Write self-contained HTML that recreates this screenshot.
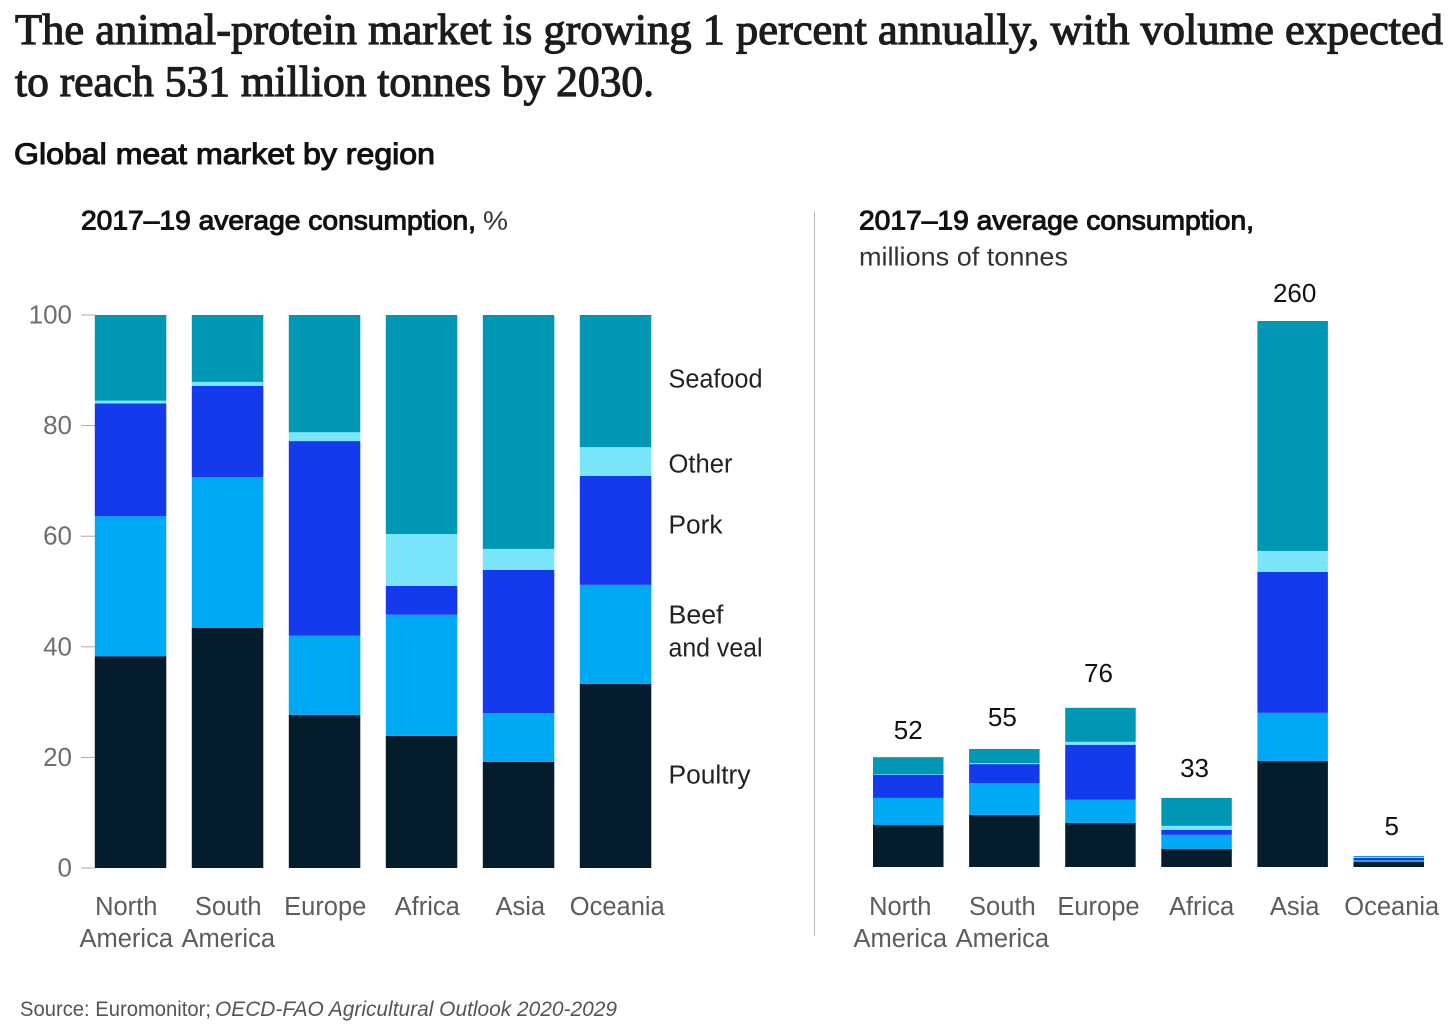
<!DOCTYPE html>
<html lang="en">
<head>
<meta charset="utf-8">
<title>Global meat market by region</title>
<style>
html,body{margin:0;padding:0;background:#fff;}
svg{display:block;}
text{font-family:"Liberation Sans",sans-serif;}
.serif{font-family:"Liberation Serif",serif;font-weight:normal;font-size:43.5px;fill:#1c1c1c;stroke:#1c1c1c;stroke-width:1.15px;}
.cat{font-size:25.5px;fill:#5c5c5c;}
.tick{font-size:26px;fill:#6e6e6e;}
.leg{font-size:25.5px;fill:#222;}
.val{font-size:26px;fill:#111;}
.head{font-size:27px;font-weight:normal;fill:#111;stroke:#111;stroke-width:1px;}
</style>
</head>
<body>
<svg id="chart" xmlns="http://www.w3.org/2000/svg" width="1456" height="1035" viewBox="0 0 1456 1035">
  <text class="serif" x="15" y="44" textLength="1428" lengthAdjust="spacingAndGlyphs">The animal-protein market is growing 1 percent annually, with volume expected</text>
  <text class="serif" x="15" y="96" textLength="639" lengthAdjust="spacingAndGlyphs">to reach 531 million tonnes by 2030.</text>
  <text x="14" y="164" font-size="30" fill="#111" stroke="#111" stroke-width="1.05" textLength="421" lengthAdjust="spacingAndGlyphs">Global meat market by region</text>
  <text class="head" x="81" y="229.5" textLength="395" lengthAdjust="spacingAndGlyphs">2017–19 average consumption,</text>
  <text x="483" y="229.5" font-size="26" fill="#333" textLength="25" lengthAdjust="spacingAndGlyphs">%</text>
  <text class="head" x="859" y="229.5" textLength="395" lengthAdjust="spacingAndGlyphs">2017–19 average consumption,</text>
  <text x="859" y="265.5" font-size="26" fill="#333" textLength="209" lengthAdjust="spacingAndGlyphs">millions of tonnes</text>
  <line x1="814.5" x2="814.5" y1="211" y2="936" stroke="#bdbdbd" stroke-width="1"/>
  <text class="leg" x="668.5" y="387.5" textLength="94" lengthAdjust="spacingAndGlyphs">Seafood</text>
  <text class="leg" x="668.5" y="472.5" textLength="64" lengthAdjust="spacingAndGlyphs">Other</text>
  <text class="leg" x="668.5" y="533.5" textLength="54" lengthAdjust="spacingAndGlyphs">Pork</text>
  <text class="leg" x="668.5" y="623.5" textLength="55" lengthAdjust="spacingAndGlyphs">Beef</text>
  <text class="leg" x="668.5" y="656.5" textLength="94" lengthAdjust="spacingAndGlyphs">and veal</text>
  <text class="leg" x="668.5" y="783.5" textLength="82" lengthAdjust="spacingAndGlyphs">Poultry</text>
  <text x="20" y="1016" font-size="21" fill="#555"><tspan textLength="191" lengthAdjust="spacingAndGlyphs">Source: Euromonitor;</tspan> <tspan x="215" font-style="italic" textLength="402" lengthAdjust="spacingAndGlyphs">OECD-FAO Agricultural Outlook 2020-2029</tspan></text>
</svg>
<script>
const regions = ["North America", "South America", "Europe", "Africa", "Asia", "Oceania"];
const seriesNames = ["Poultry", "Beef and veal", "Pork", "Other", "Seafood"];
const seriesColors = ["#051c2c", "#00a9f4", "#1539ec", "#7ae5fb", "#0097b5"];
const percentTicks = [0, 20, 40, 60, 80, 100];

const sharePoultry = [38.3, 43.4, 27.7, 23.9, 19.2, 33.3];
const shareBeef = [25.3, 27.3, 14.3, 21.9, 8.8, 17.9];
const sharePork = [20.4, 16.5, 35.2, 5.2, 25.9, 19.7];
const shareOther = [0.5, 0.7, 1.6, 9.4, 3.8, 5.2];
const shareSeafood = [15.5, 12.1, 21.2, 39.6, 42.3, 23.9];

const tonnesPoultry = [20, 24.8, 21, 8.6, 50.5, 2.4];
const tonnesBeef = [12.9, 15.2, 11, 6.7, 22.9, 0.9];
const tonnesPork = [11, 9, 26.2, 2.4, 67.1, 1];
const tonnesOther = [0.2, 0.5, 1.4, 1.9, 10, 0.4];
const tonnesSeafood = [8.2, 6.7, 16.2, 13.3, 109.5, 0.5];
const regionTotals = [52, 55, 76, 33, 260, 5];

const NS = "http://www.w3.org/2000/svg";
const svg = document.getElementById("chart");

function shape(tag, attrs) {
  const el = document.createElementNS(NS, tag);
  for (const k in attrs) el.setAttribute(k, attrs[k]);
  svg.appendChild(el);
  return el;
}
function slug(s) { return s.toLowerCase().replace(/ /g, "-"); }

const yShare = v => 868 - v * 5.53;
const yTonnes = v => 867 - v * 2.1;
const xLeft = i => 94.8 + i * 97;
const xRight = i => 873 + i * 96.1;
const leftBarW = 71.5;
const rightBarW = 70.5;

function drawStack(prefix, stacks, xFn, yFn, w) {
  regions.forEach(function (region, i) {
    let acc = 0;
    stacks.forEach(function (values, s) {
      const v = values[i];
      const top = yFn(acc + v);
      const bottom = yFn(acc);
      const r = shape("rect", { x: xFn(i), y: top, width: w, height: bottom - top, fill: seriesColors[s] });
      
      
      acc += v;
    });
  });
}

function drawCategories(prefix, centerFn, barW, nudges) {
  regions.forEach(function (region, i) {
    const parts = region.split(" ");
    const cx = centerFn(i) + barW / 2 + nudges[i];
    parts.forEach(function (word, line) {
      const t = shape("text", { x: cx, y: 915 + line * 32, "text-anchor": "middle", "class": "cat" });
      t.textContent = word;
      
      
    });
  });
}

/* left chart: share of consumption */
percentTicks.forEach(function (v) {
  const l = shape("line", { x1: 81, x2: 95, y1: yShare(v), y2: yShare(v), stroke: "#aaa", "stroke-width": 1 });
  
  
  const t = shape("text", { x: 72, y: yShare(v) + 8.5, "text-anchor": "end", "class": "tick" });
  t.textContent = v;
  
  
});
drawStack("share", [sharePoultry, shareBeef, sharePork, shareOther, shareSeafood], xLeft, yShare, leftBarW);
drawCategories("share", xLeft, leftBarW, [-4.3, 0.7, 0.7, 5.7, 1.7, 1.7]);

/* right chart: millions of tonnes */
const tonnesStacks = [tonnesPoultry, tonnesBeef, tonnesPork, tonnesOther, tonnesSeafood];
drawStack("tonnes", tonnesStacks, xRight, yTonnes, rightBarW);
drawCategories("tonnes", xRight, rightBarW, [-8, -2, -2, 5, 2, 3]);

const totalNudgeX = [0, -2, -2, -2, 2, 3];
const totalNudgeY = [2, -3, -6, -1, 1, -1];
regionTotals.forEach(function (v, i) {
  const stackTop = tonnesStacks.reduce(function (sum, arr) { return sum + arr[i]; }, 0);
  const t = shape("text", {
    x: xRight(i) + rightBarW / 2 + totalNudgeX[i],
    y: yTonnes(stackTop) - 20 + totalNudgeY[i],
    "text-anchor": "middle",
    "class": "val"
  });
  t.textContent = v;
  
  
});
</script>
</body>
</html>
